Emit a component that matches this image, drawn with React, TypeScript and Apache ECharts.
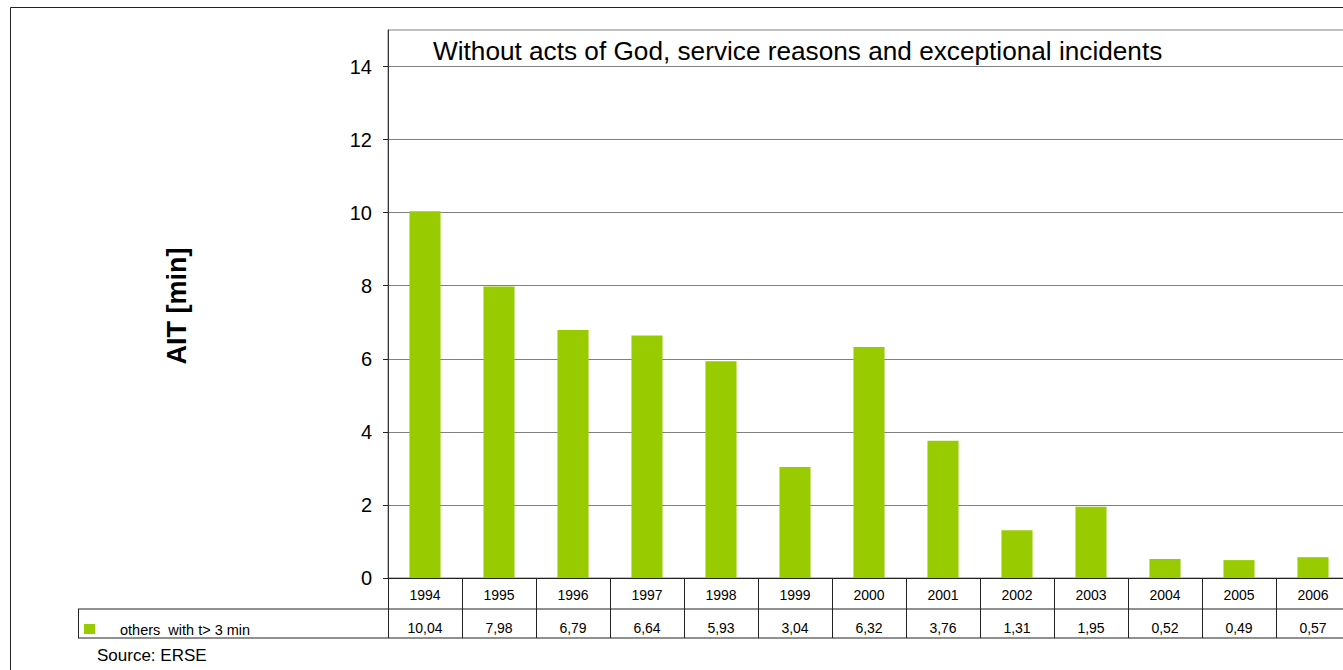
import React, { useEffect, useRef } from "react";
import * as echarts from "echarts";

// AIT per year for the "others with t> 3 min" component
const years = ["1994", "1995", "1996", "1997", "1998", "1999", "2000", "2001", "2002", "2003", "2004", "2005", "2006"];
const aitValues = [10.04, 7.98, 6.79, 6.64, 5.93, 3.04, 6.32, 3.76, 1.31, 1.95, 0.52, 0.49, 0.57];
const yTicks = [0, 2, 4, 6, 8, 10, 12, 14];

const seriesName = "others  with t> 3 min";
const chartTitle = "Without acts of God, service reasons and exceptional incidents";
const yAxisTitle = "AIT [min]";
const sourceNote = "Source: ERSE";

const BAR_COLOR = "#99CC00";
const FONT = "'Liberation Sans', Arial, sans-serif";

const fmt = (v: number) => v.toFixed(2).replace(".", ",");

export default function App() {
  const ref = useRef<HTMLDivElement>(null);

  useEffect(() => {
    if (!ref.current) return;
    const chart = echarts.init(ref.current, undefined, { renderer: "svg" });

    const gridLeft = 388;
    const gridTop = 30;
    const gridWidth = 962;
    const gridHeight = 548;
    const axisY = gridTop + gridHeight;
    const tableRight = gridLeft + gridWidth;

    chart.setOption({
      animation: false,
      backgroundColor: "#ffffff",
      textStyle: { fontFamily: FONT },
      grid: {
        left: gridLeft,
        top: gridTop,
        width: gridWidth,
        height: gridHeight,
        containLabel: false,
        show: true,
        borderColor: "#808080",
        borderWidth: 1,
        backgroundColor: "transparent",
      },
      xAxis: [
        {
          type: "category",
          data: years,
          position: "bottom",
          boundaryGap: true,
          axisLine: { show: true, lineStyle: { color: "#222", width: 1 } },
          axisTick: { show: true, inside: false, length: 60, lineStyle: { color: "#222", width: 1 } },
          axisLabel: { show: true, color: "#000", fontSize: 14, fontFamily: FONT, margin: 10, interval: 0 },
          splitLine: { show: false },
        },
        {
          type: "category",
          data: years,
          position: "bottom",
          boundaryGap: true,
          axisLine: { show: false },
          axisTick: { show: false },
          axisLabel: {
            show: true,
            color: "#000",
            fontSize: 14,
            fontFamily: FONT,
            margin: 43,
            interval: 0,
            formatter: (_v: string, i: number) => fmt(aitValues[i]),
          },
          splitLine: { show: false },
        },
      ],
      yAxis: {
        type: "value",
        min: 0,
        max: 15,
        interval: 2,
        axisLine: { show: true, lineStyle: { color: "#333", width: 1 } },
        axisTick: { show: true, inside: false, length: 5, lineStyle: { color: "#222" }, customValues: yTicks },
        axisLabel: {
          color: "#000",
          fontSize: 20,
          fontFamily: FONT,
          margin: 16,
          customValues: yTicks,
          formatter: (v: number) => (yTicks.includes(v) ? String(v) : ""),
        },
        splitLine: { show: true, lineStyle: { color: "#808080", width: 1 } },
      },
      series: [
        {
          name: seriesName,
          type: "bar",
          data: aitValues,
          barWidth: "42%",
          itemStyle: { color: BAR_COLOR },
        },
      ],
      graphic: [
        // outer frame
        {
          type: "rect",
          shape: { x: 10.5, y: 7.5, width: 1450, height: 700 },
          style: { fill: "none", stroke: "#222", lineWidth: 1 },
          silent: true,
          z: 0,
        },
        // data table rows
        {
          type: "line",
          shape: { x1: 78, y1: axisY + 31, x2: tableRight, y2: axisY + 31 },
          style: { stroke: "#222", lineWidth: 1 },
          z: 10,
        },
        {
          type: "line",
          shape: { x1: 78, y1: axisY + 60, x2: tableRight, y2: axisY + 60 },
          style: { stroke: "#222", lineWidth: 1 },
          z: 10,
        },
        {
          type: "line",
          shape: { x1: 78.5, y1: axisY + 31, x2: 78.5, y2: axisY + 60 },
          style: { stroke: "#222", lineWidth: 1 },
          z: 10,
        },
        // legend key inside the table
        {
          type: "rect",
          shape: { x: 84, y: 624, width: 11, height: 10 },
          style: { fill: BAR_COLOR },
          z: 10,
        },
        {
          type: "text",
          x: 120,
          y: 630,
          style: { text: seriesName, fontSize: 14.5, fontFamily: FONT, fill: "#000", verticalAlign: "middle", align: "left" },
          z: 10,
        },
        // chart title
        {
          type: "text",
          x: 433,
          y: 51,
          style: { text: chartTitle, fontSize: 26.2, fontFamily: FONT, fill: "#000", verticalAlign: "middle", align: "left" },
          z: 10,
        },
        // y axis title
        {
          type: "text",
          x: 177,
          y: 306,
          rotation: Math.PI / 2,
          style: {
            text: yAxisTitle,
            fontSize: 27,
            fontWeight: "bold",
            fontFamily: FONT,
            fill: "#000",
            verticalAlign: "middle",
            align: "center",
          },
          z: 10,
        },
        // source note
        {
          type: "text",
          x: 97,
          y: 655,
          style: { text: sourceNote, fontSize: 17, fontFamily: FONT, fill: "#000", verticalAlign: "middle", align: "left" },
          z: 10,
        },
      ],
    });

    return () => chart.dispose();
  }, []);

  return (
    <div
      ref={ref}
      style={{ position: "fixed", left: 0, top: 0, width: 1420, height: 670, background: "#fff" }}
    />
  );
}
